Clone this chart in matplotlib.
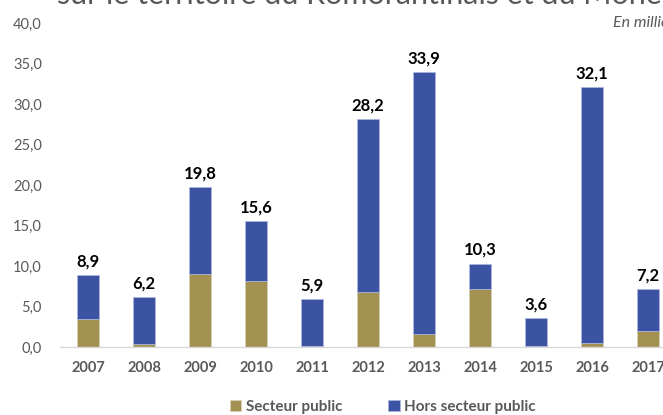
import matplotlib
matplotlib.use("Agg")
import matplotlib.pyplot as plt
import numpy as np

years = ["2007", "2008", "2009", "2010", "2011", "2012", "2013", "2014", "2015", "2016", "2017"]
public = [3.4, 0.4, 9.0, 8.1, 0.1, 6.8, 1.6, 7.2, 0.1, 0.5, 2.0]
hors_public = [5.5, 5.8, 10.8, 7.5, 5.8, 21.4, 32.3, 3.1, 3.5, 31.6, 5.2]
totals = [8.9, 6.2, 19.8, 15.6, 5.9, 28.2, 33.9, 10.3, 3.6, 32.1, 7.2]
yticks = [0, 5, 10, 15, 20, 25, 30, 35, 40]

plt.rcParams['font.family'] = ['Lato', 'DejaVu Sans']

W, H = 663, 415
fig = plt.figure(figsize=(W / 100, H / 100), dpi=100)
ax = fig.add_axes([60 / W, 1 - 347 / H, 616 / W, 324 / H])

x = np.arange(len(years))
olive = '#A39152'
blue = '#3C53A4'
bw = 0.39
ax.bar(x, public, bw, color=olive, edgecolor='#D8D2BA', linewidth=0.5, label='Secteur public', zorder=2)
ax.bar(x, hors_public, bw, bottom=public, color=blue, edgecolor='#AEB9DD', linewidth=0.5,
       label='Hors secteur public', zorder=2)

for xi, t in zip(x, totals):
    ax.annotate(f"{t:.1f}".replace('.', ','), (xi, t), xytext=(0, 4), textcoords='offset points',
                ha='center', va='bottom', fontsize=12, fontweight='bold', color='black')

ax.set_xlim(-0.5, len(years) - 0.5)
ax.set_ylim(0, 40)
ax.set_yticks(yticks)
ax.set_yticklabels([f"{v:.1f}".replace('.', ',') for v in yticks], fontsize=10.5, color='#595959')
ax.set_xticks(x)
ax.set_xticklabels(years, fontsize=10.5, fontweight='bold', color='#595959')
ax.tick_params(axis='both', length=0)
ax.tick_params(axis='x', pad=10)
ax.tick_params(axis='y', pad=13)
for s in ['top', 'right', 'left']:
    ax.spines[s].set_visible(False)
ax.spines['bottom'].set_color('#D9D9D9')
ax.spines['bottom'].set_linewidth(1)

fig.text(57 / W, 1 - 4 / H, "sur le territoire du Romorantinais et du Monestois",
         fontsize=22, color='#595959', ha='left', va='baseline')
fig.text(613 / W, 1 - 23 / H, "En millions d'euros", fontsize=11.5, style='italic',
         color='#595959', ha='left', va='center')

fig.legend(loc='center', bbox_to_anchor=(383 / W, 1 - 407 / H), ncol=2, frameon=False,
           prop={'weight': 'bold', 'size': 11}, handlelength=0.75, handleheight=0.75,
           handletextpad=0.3, columnspacing=3.0, labelcolor='#595959')

fig.savefig("out.png", dpi=100)
